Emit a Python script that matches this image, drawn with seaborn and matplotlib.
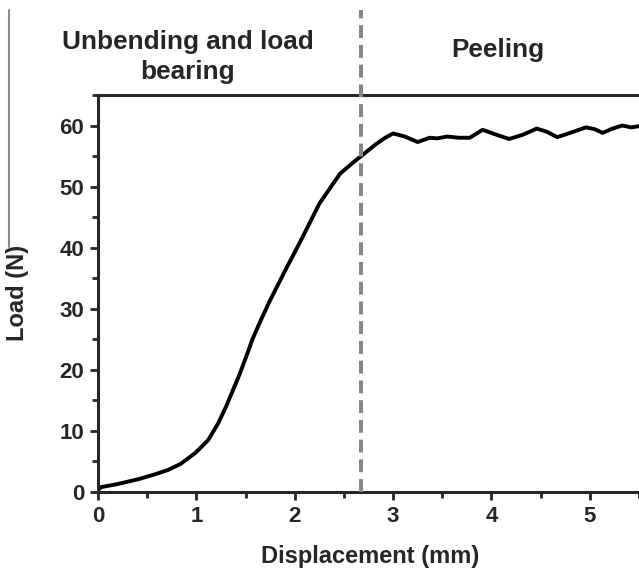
import matplotlib
matplotlib.use("Agg")
import matplotlib.pyplot as plt
import seaborn as sns
import pandas as pd
from matplotlib.lines import Line2D
from matplotlib.ticker import MultipleLocator

displacement = [0.0, 0.03, 0.20, 0.41, 0.58, 0.71, 0.84, 0.99, 1.12, 1.22, 1.30, 1.37,
                1.44, 1.51, 1.57, 1.66, 1.75, 1.92, 2.06, 2.25, 2.46, 2.59, 2.66, 2.83,
                2.92, 3.0, 3.12, 3.25, 3.37, 3.45, 3.55, 3.67, 3.78, 3.91, 4.05, 4.18,
                4.32, 4.46, 4.56, 4.67, 4.80, 4.96, 5.05, 5.13, 5.23, 5.33, 5.42, 5.5]
load = [0.3, 0.8, 1.3, 2.1, 2.9, 3.6, 4.6, 6.4, 8.5, 11.2, 13.9, 16.6,
        19.3, 22.3, 25.0, 28.3, 31.4, 36.8, 41.1, 47.2, 52.1, 53.9, 54.8, 57.0,
        58.0, 58.7, 58.2, 57.3, 58.0, 57.9, 58.2, 58.0, 58.0, 59.3, 58.5, 57.8,
        58.5, 59.5, 59.0, 58.1, 58.8, 59.7, 59.4, 58.8, 59.5, 60.0, 59.7, 59.9]
boundary_x = 2.67
x_ticks = [0, 1, 2, 3, 4, 5]
y_ticks = [0, 10, 20, 30, 40, 50, 60]
region_labels = ["Unbending and load\nbearing", "Peeling"]

sns.set_style("ticks")
plt.rcParams['font.family'] = ['Liberation Sans', 'DejaVu Sans']

fig = plt.figure(figsize=(6.39, 5.71), dpi=100)
ax = fig.add_axes([98/639, 79/571, 541/639, 397/571])

df = pd.DataFrame({"Displacement": displacement, "Load": load})
sns.lineplot(data=df, x="Displacement", y="Load", ax=ax, color="black",
             linewidth=2.8, estimator=None, sort=False)

ax.axvline(boundary_x, ymin=0, ymax=(492-10)/(492-95), color="#878787",
           linewidth=2.9, dashes=(3.2, 1.7), clip_on=False, zorder=5)

ax.set_xlim(0, 5.5)
ax.set_ylim(0, 65)
ax.set_xticks(x_ticks)
ax.set_yticks(y_ticks)
ax.xaxis.set_minor_locator(MultipleLocator(0.5))
ax.yaxis.set_minor_locator(MultipleLocator(5))
ax.tick_params(which="major", direction="out", length=6, width=2,
               labelsize=16, pad=4)
ax.tick_params(which="minor", direction="out", length=4, width=2)
for lab in ax.get_xticklabels() + ax.get_yticklabels():
    lab.set_fontweight("bold")
for side in ["left", "bottom", "top"]:
    ax.spines[side].set_linewidth(2.2)
ax.spines["right"].set_visible(False)
ax.set_xlabel("")
ax.set_ylabel("")

fig.text(370/639, 1-557/571, "Displacement (mm)", ha="center", va="center",
         fontsize=17, fontweight="bold")
fig.text(18/639, 1-293/571, "Load (N)", ha="center", va="center",
         rotation=90, fontsize=17, fontweight="bold")
fig.text(188/639, 1-57/571, region_labels[0], ha="center", va="center",
         multialignment="center", fontsize=18.8, fontweight="bold", linespacing=1.35)
fig.text(498/639, 1-50/571, region_labels[1], ha="center", va="center",
         fontsize=18.8, fontweight="bold")

fig.add_artist(Line2D([9/639, 9/639], [1-10/571, 1-247/571],
                      transform=fig.transFigure, color="#8a8a8a", linewidth=1.5))

fig.savefig("out.png", dpi=100)
